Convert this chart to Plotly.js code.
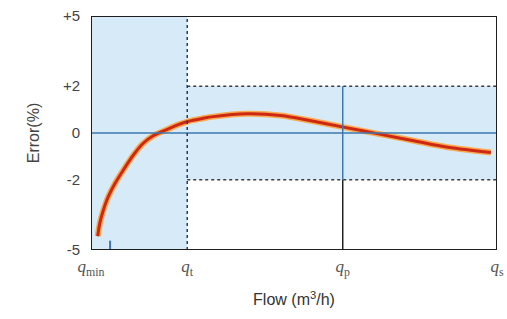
<!DOCTYPE html>
<html><head><meta charset="utf-8">
<script src="https://cdn.plot.ly/plotly-3.0.1.min.js"></script>
<style>html,body{margin:0;padding:0;background:#fff;}#c{width:507px;height:319px;}</style>
</head><body><div id="c"></div>
<script>
// Flow positions (relative units) and tick labels
const flowTicks = [0, 23.7, 62.0, 100];
const flowTickText = ['<i>q</i><sub>min</sub>', '<i>q</i><sub>t</sub>', '<i>q</i><sub>p</sub>', '<i>q</i><sub>s</sub>'];
const errorTicks = [-5, -2, 0, 2, 5];
const errorTickText = ['-5', '-2', '0', '+2', '+5'];
// Error curve
const curveFlow  = [1.65, 2.2, 3.0, 4.2, 5.9, 7.9, 10.4, 12.8, 15.3, 18.3, 21.5, 24.0, 27.4, 30.1, 38.5, 46.7, 54.8, 62.2, 71.4, 79.5, 87.9, 98.5];
const curveError = [-4.41, -3.83, -3.32, -2.74, -2.16, -1.6, -0.95, -0.45, -0.12, 0.12, 0.36, 0.5, 0.62, 0.7, 0.82, 0.75, 0.5, 0.25, -0.06, -0.33, -0.61, -0.83];
const mpe = 2;
const qminMark = 4.7;

const qmin = flowTicks[0], qt = flowTicks[1], qp = flowTicks[2], qs = flowTicks[3];
const fill = 'rgb(214,234,248)';
const blue = 'rgb(60,120,175)';
const dark = 'rgb(30,30,30)';

const traces = [
  {x: curveFlow, y: curveError, mode: 'lines', line: {color: 'rgb(250,170,80)', width: 6, shape: 'spline', smoothing: 1}, hoverinfo: 'skip', showlegend: false},
  {x: curveFlow, y: curveError, mode: 'lines', line: {color: 'rgb(205,40,20)', width: 3, shape: 'spline', smoothing: 1}, showlegend: false}
];

const shapes = [
  {type: 'rect', layer: 'below', x0: qmin, x1: qt, y0: -5, y1: 5, fillcolor: fill, line: {width: 0}},
  {type: 'rect', layer: 'below', x0: qt, x1: qs, y0: -mpe, y1: mpe, fillcolor: fill, line: {width: 0}},
  {type: 'line', x0: qmin, x1: qs, y0: 0, y1: 0, line: {color: blue, width: 1.5}},
  {type: 'line', x0: qt, x1: qs, y0: mpe, y1: mpe, line: {color: 'rgb(60,60,60)', width: 1.5, dash: 'dot'}},
  {type: 'line', x0: qt, x1: qs, y0: -mpe, y1: -mpe, line: {color: 'rgb(60,60,60)', width: 1.5, dash: 'dot'}},
  {type: 'line', x0: qt, x1: qt, y0: -5, y1: 5, line: {color: 'rgb(40,60,90)', width: 1.5, dash: 'dot'}},
  {type: 'line', x0: qp, x1: qp, y0: -mpe, y1: mpe, line: {color: blue, width: 1.5}},
  {type: 'line', x0: qp, x1: qp, y0: -5, y1: -mpe, line: {color: dark, width: 1.5}},
  {type: 'line', x0: qminMark, x1: qminMark, y0: -5, y1: -4.6, line: {color: blue, width: 2}},
  {type: 'rect', x0: qmin, x1: qs, y0: -5, y1: 5, line: {color: dark, width: 2}}
];

const layout = {
  width: 507, height: 319,
  margin: {l: 91, r: 10, t: 16, b: 69},
  paper_bgcolor: '#fff', plot_bgcolor: '#fff',
  showlegend: false,
  xaxis: {range: [qmin, qs], tickvals: flowTicks, ticktext: flowTickText, showgrid: false, zeroline: false,
          ticks: '', showline: false, ticklabelstandoff: 4, tickfont: {family: 'Liberation Serif, serif', size: 17, color: '#555'},
          title: {text: 'Flow (m<sup>3</sup>/h)', font: {family: 'Liberation Sans, Arial, sans-serif', size: 16, color: '#333'}, standoff: 16},
          fixedrange: true},
  yaxis: {range: [-5, 5], tickvals: errorTicks, ticktext: errorTickText, showgrid: false, zeroline: false,
          ticks: '', showline: false, ticklabelstandoff: 10, tickfont: {family: 'Liberation Sans, Arial, sans-serif', size: 15, color: '#444'},
          title: {text: 'Error(%)', font: {family: 'Liberation Sans, Arial, sans-serif', size: 16, color: '#444'}, standoff: 19},
          fixedrange: true},
  shapes: shapes
};
Plotly.newPlot('c', traces, layout, {staticPlot: true, displayModeBar: false});
</script></body></html>
